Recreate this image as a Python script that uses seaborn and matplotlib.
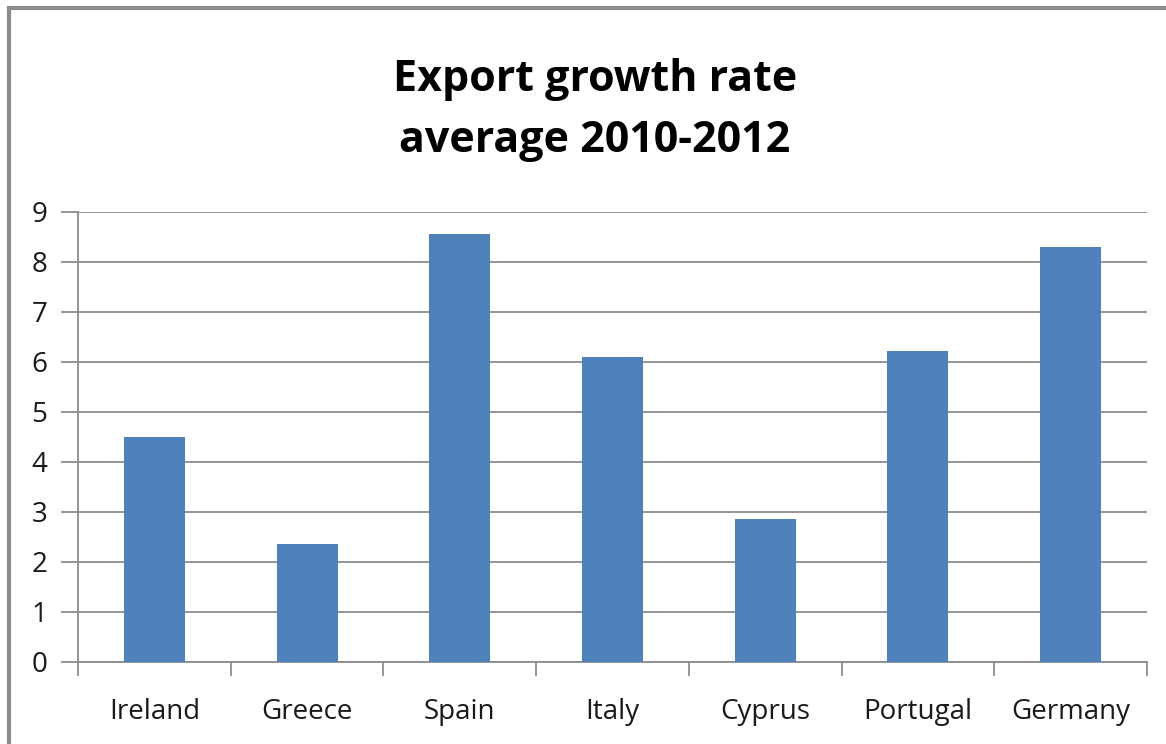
import matplotlib
matplotlib.use("Agg")
import matplotlib.pyplot as plt
import seaborn as sns
import pandas as pd
from matplotlib.patches import Rectangle

countries = ["Ireland", "Greece", "Spain", "Italy", "Cyprus", "Portugal", "Germany"]
growth = [4.5, 2.37, 8.56, 6.1, 2.87, 6.22, 8.3]
yticks = [0, 1, 2, 3, 4, 5, 6, 7, 8, 9]
title = "Export growth rate\naverage 2010-2012"

sns.set_theme(style="white")
plt.rcParams['font.family'] = ['Open Sans', 'DejaVu Sans']

df = pd.DataFrame({"country": countries, "growth": growth})

fig = plt.figure(figsize=(11.66, 7.44), dpi=100)
ax = fig.add_axes([78/1166, 1-662/744, (1147-78)/1166, (662-212)/744])

sns.barplot(data=df, x="country", y="growth", color="#4F81BD", saturation=1,
            width=0.4, ax=ax, zorder=3, linewidth=0)

ax.set_ylim(0, 9)
ax.set_xlim(-0.5, len(countries)-0.5)
ax.set_yticks(yticks)
ax.set_xlabel("")
ax.set_ylabel("")
ax.grid(axis="y", color="#8C8C8C", linewidth=1.3, zorder=0)
ax.set_axisbelow(True)
for s in ["top", "right"]:
    ax.spines[s].set_visible(False)
ax.spines["left"].set_color("#8C8C8C")
ax.spines["bottom"].set_color("#8C8C8C")
ax.spines["left"].set_linewidth(1.3)
ax.spines["bottom"].set_linewidth(1.3)

ax.tick_params(axis="y", which="major", length=12, width=1.3, color="#8C8C8C",
               labelsize=20, pad=10, left=True, labelcolor="#1a1a1a")
ax.tick_params(axis="x", which="major", length=0, labelsize=20, pad=26, labelcolor="#1a1a1a")
ax.set_xticks(range(len(countries)))
ax.set_xticklabels(countries)
ax.set_xticks([i + 0.5 for i in range(-1, len(countries))], minor=True)
ax.tick_params(axis="x", which="minor", length=10, width=1.3, color="#8C8C8C", bottom=True)

fig.text(0.51, 1-110/744, title, ha="center", va="center", fontsize=31,
         fontweight="bold", linespacing=1.55, color="black")

fig.patches.append(Rectangle((9/1166, -0.1), 1.2, 1-8/744+0.1, transform=fig.transFigure,
                             fill=False, edgecolor="#8C8C8C", linewidth=3, zorder=10))

fig.savefig("out.png", dpi=100)
